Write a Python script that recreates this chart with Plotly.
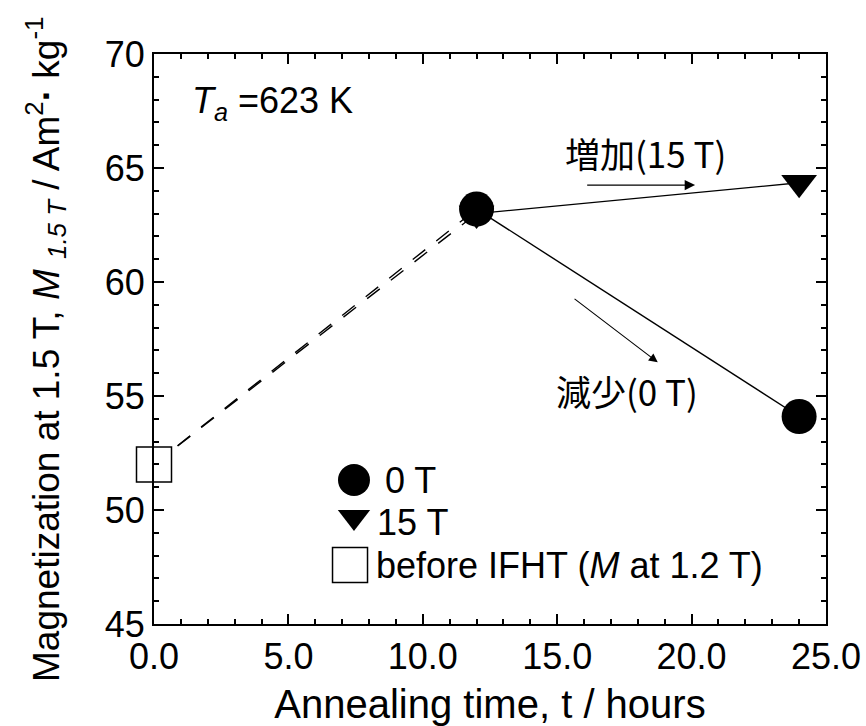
import plotly.graph_objects as go

# Annealing times (hours) and magnetization at 1.5 T (A m^2 / kg)
t_before = [0.0]
m_before = [52.0]          # before IFHT (M at 1.2 T)
t_anneal = [12.0, 24.0]
m_0T = [63.2, 54.1]        # annealed in 0 T
m_15T = [63.0, 64.35]      # annealed in 15 T

FONT = "Liberation Sans, Arial, sans-serif"
CJK = "Noto Sans CJK JP, sans-serif"
BLACK = "black"

fig = go.Figure()

# dashed links from the as-prepared state to the 12 h points
for m_series in (m_0T, m_15T):
    fig.add_trace(go.Scatter(
        x=[t_before[0], t_anneal[0]], y=[m_before[0], m_series[0]],
        mode="lines", line=dict(color=BLACK, width=1.4, dash="16px,14px"),
        showlegend=False, hoverinfo="skip"))
    fig.add_trace(go.Scatter(
        x=t_anneal, y=m_series, mode="lines",
        line=dict(color=BLACK, width=1.4),
        showlegend=False, hoverinfo="skip"))

# markers: 15 T below, 0 T on top
fig.add_trace(go.Scatter(
    x=t_anneal, y=m_15T, mode="markers", name="15 T",
    marker=dict(symbol="triangle-down", size=31, color=BLACK,
                line=dict(width=0)),
    cliponaxis=False, showlegend=False))
fig.add_trace(go.Scatter(
    x=t_anneal, y=m_0T, mode="markers", name="0 T",
    marker=dict(symbol="circle", size=35, color=BLACK, line=dict(width=0)),
    cliponaxis=False, showlegend=False))
fig.add_trace(go.Scatter(
    x=t_before, y=m_before, mode="markers", name="before IFHT",
    marker=dict(symbol="square", size=35, color="white",
                line=dict(width=1.5, color=BLACK)),
    cliponaxis=False, showlegend=False))

# legend keys drawn on an overlay axis spanning [0, 1]
legend_keys = [
    ("circle", 32, BLACK, 0, 0.2976, 0.2526),
    ("triangle-down", 28, BLACK, 0, 0.2976, 0.1877),
    ("square", 35, "white", 1.5, 0.2917, 0.1035),
]
for sym, sz, col, lw, kx, ky in legend_keys:
    fig.add_trace(go.Scatter(
        x=[kx], y=[ky], xaxis="x2", yaxis="y2", mode="markers",
        marker=dict(symbol=sym, size=sz, color=col,
                    line=dict(width=lw, color=BLACK)),
        cliponaxis=False, showlegend=False, hoverinfo="skip"))

legend_texts = [
    ("0 T", 0.3408, 0.2526),
    ("15 T", 0.3289, 0.1772),
    ("before IFHT (<i>M</i> at 1.2 T)", 0.3274, 0.1035),
]
annotations = []
for txt, lx, ly in legend_texts:
    annotations.append(dict(
        text=txt, x=lx, y=ly, xref="paper", yref="paper",
        xanchor="left", yanchor="middle", showarrow=False,
        font=dict(family=FONT, size=36, color=BLACK)))

annotations += [
    dict(text="<i>T</i><sub><i>a</i></sub> =623 K", x=0.0536, y=0.914,
         xref="paper", yref="paper", xanchor="left", yanchor="middle",
         showarrow=False, font=dict(family=FONT, size=36, color=BLACK)),
    dict(text="増加(15 T)", x=0.7307, y=0.828, xref="paper", yref="paper",
         xanchor="center", yanchor="middle", showarrow=False,
         font=dict(family=CJK, size=35, color=BLACK)),
    dict(text="減少(0 T)", x=0.7039, y=0.4105, xref="paper", yref="paper",
         xanchor="center", yanchor="middle", showarrow=False,
         font=dict(family=CJK, size=35, color=BLACK)),
    # y-axis title, rotated
    dict(text="Magnetization at 1.5 T, <i>M</i> "
              "<sub><i>1.5 T</i></sub> / Am<sup>2</sup>"
              "<b>·</b> kg<sup>-1</sup>",
         x=-0.1622, y=0.4807, xref="paper", yref="paper",
         xanchor="center", yanchor="middle", textangle=-90,
         showarrow=False, font=dict(family=FONT, size=37, color=BLACK)),
    # trend arrows
    dict(text="", x=20.13, y=64.25, ax=16.06, ay=64.25, xref="x", yref="y",
         axref="x", ayref="y", showarrow=True, arrowhead=2, arrowsize=1.6,
         arrowwidth=1.3, arrowcolor=BLACK, standoff=0),
    dict(text="", x=18.74, y=56.48, ax=15.59, ay=59.31, xref="x", yref="y",
         axref="x", ayref="y", showarrow=True, arrowhead=2, arrowsize=1.6,
         arrowwidth=1.1, arrowcolor=BLACK, standoff=0),
]

axis_common = dict(
    showline=True, linewidth=2, linecolor=BLACK, mirror="allticks",
    ticks="inside", ticklen=10, tickwidth=1.5, tickcolor=BLACK,
    showgrid=False, zeroline=False, automargin=False,
    tickfont=dict(family=FONT, size=36, color=BLACK),
    minor=dict(ticks="inside", ticklen=5, tickwidth=1.5, tickcolor=BLACK,
               showgrid=False),
)

fig.update_layout(
    width=866, height=726,
    margin=dict(l=154, r=40, t=54, b=102),
    paper_bgcolor="white", plot_bgcolor="white",
    showlegend=False,
    xaxis=dict(range=[0, 25], tick0=0, dtick=5, tickformat=".1f",
               minor_dtick=1,
               title=dict(text="Annealing time, t / hours", standoff=16,
                          font=dict(family=FONT, size=40, color=BLACK)),
               **axis_common),
    yaxis=dict(range=[45, 70], tick0=45, dtick=5, minor_dtick=1,
               **axis_common),
    xaxis2=dict(overlaying="x", range=[0, 1], visible=False),
    yaxis2=dict(overlaying="y", range=[0, 1], visible=False),
    annotations=annotations,
)

fig.write_html("out.html")
